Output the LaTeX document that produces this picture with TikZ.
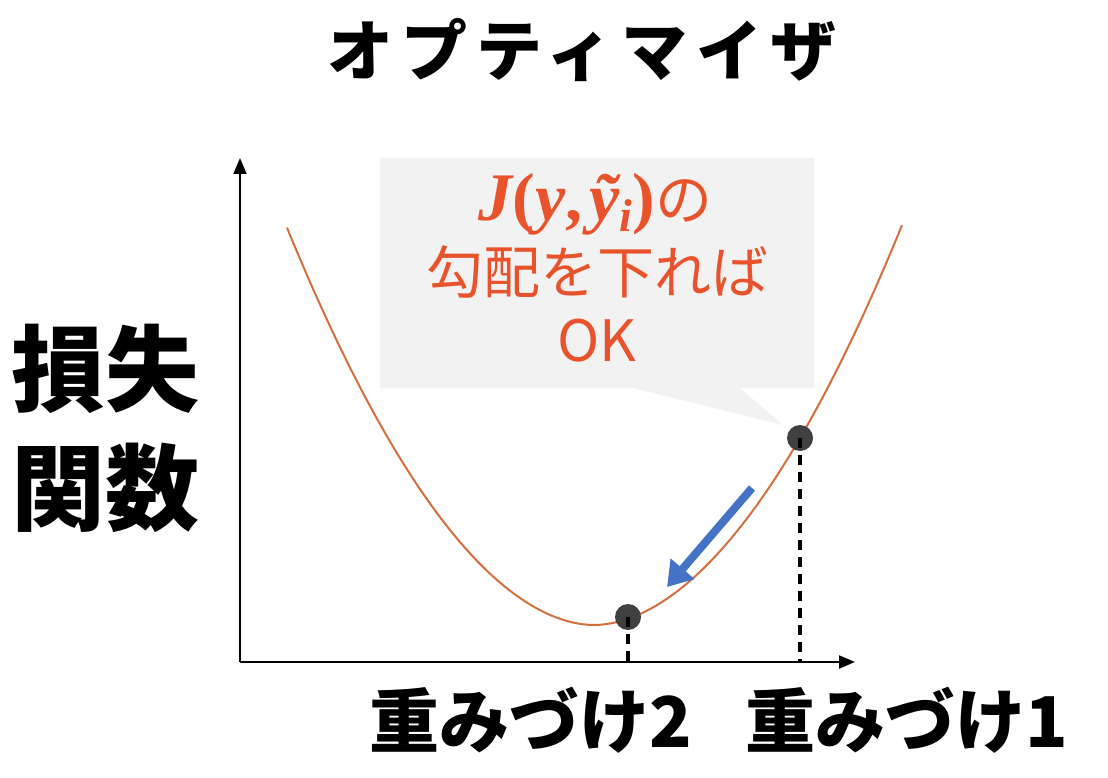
\documentclass[tikz,border=0pt]{standalone}
\usepackage{fontspec}
\usetikzlibrary{arrows.meta}
\newfontfamily\jp{Noto Sans CJK JP}
\newfontfamily\jptitle{Noto Sans CJK JP}[LetterSpace=13]
\newfontfamily\mser{Liberation Serif}
\definecolor{callgray}{HTML}{F2F2F2}
\definecolor{curveor}{HTML}{D4703E}
\definecolor{txtor}{HTML}{E8532B}
\definecolor{dotgray}{HTML}{404040}
\definecolor{arrblue}{HTML}{4472C4}
\tikzset{
  axisline/.style={line width=2pt,-{Triangle[length=16pt,width=13pt]}},
  dashline/.style={line width=3.5pt,dash pattern=on 10pt off 7pt},
  dotnode/.style={circle,fill=dotgray,minimum size=26pt,inner sep=0pt},
  bluearrow/.style={arrblue,line width=8pt,-{Triangle[length=24pt,width=30pt]}},
  curvestyle/.style={curveor,line width=2pt},
  calltext/.style={text=txtor,inner sep=0pt},
}
\begin{document}
\begin{tikzpicture}[x=1pt,y=-1pt]
\useasboundingbox (0,0) rectangle (1108,778);
\fill[white] (0,0) rectangle (1108,778);
% curve
\draw[curvestyle] plot[domain=-307:308,samples=120,smooth] ({594+\x},{625-47.7*pow(abs(\x)/100+0.0001,1.89)});
% callout
\fill[callgray] (380,158) -- (814,158) -- (814,388) -- (740,388) -- (783,425) -- (633,388) -- (380,388) -- cycle;
\node[calltext,anchor=base east] (l1m) at (655,221) {\mser\fontsize{68}{72}\selectfont\bfseries\itshape J\upshape(\itshape y\upshape,\kern7pt\itshape ỹ\raisebox{-10pt}{\fontsize{46}{46}\selectfont i}\upshape)};
\node[calltext,anchor=base west] (l1j) at (l1m.base east) {\jp\fontsize{57}{60}\selectfont の};
\node[calltext] (l2) at (597,272) {\jp\fontsize{57}{60}\selectfont 勾配を下れば};
\node[calltext] (l3) at (597,341) {\jp\fontsize{57}{60}\selectfont OK};
% axes
\coordinate (o) at (240,662);
\coordinate (ytop) at (240,158);
\coordinate (xend) at (855,662);
\draw[axisline] (o) -- (ytop);
\draw[axisline] (o) -- (xend);
% dots
\node[dotnode] (p1) at (800,438) {};
\node[dotnode] (p2) at (628,617) {};
\draw[dashline] (p1.center) -- (p1.center |- o);
\draw[dashline] (p2.center) -- (p2.center |- o);
% blue arrow
\coordinate (a1) at (752,488);
\coordinate (a2) at (667,587);
\draw[bluearrow] (a1) -- (a2);
% texts
\node (title) at (582,50) {\jptitle\bfseries\fontsize{66}{70}\selectfont オプティマイザ};
\node[align=center,font=\jp\bfseries\fontsize{94}{119}\selectfont] (ylab) at (106,428) {損失\\関数};
\node (w2) at (531,720) {\jp\bfseries\fontsize{70}{74}\selectfont 重みづけ2};
\node (w1) at (907,720) {\jp\bfseries\fontsize{70}{74}\selectfont 重みづけ1};
\end{tikzpicture}
\end{document}
